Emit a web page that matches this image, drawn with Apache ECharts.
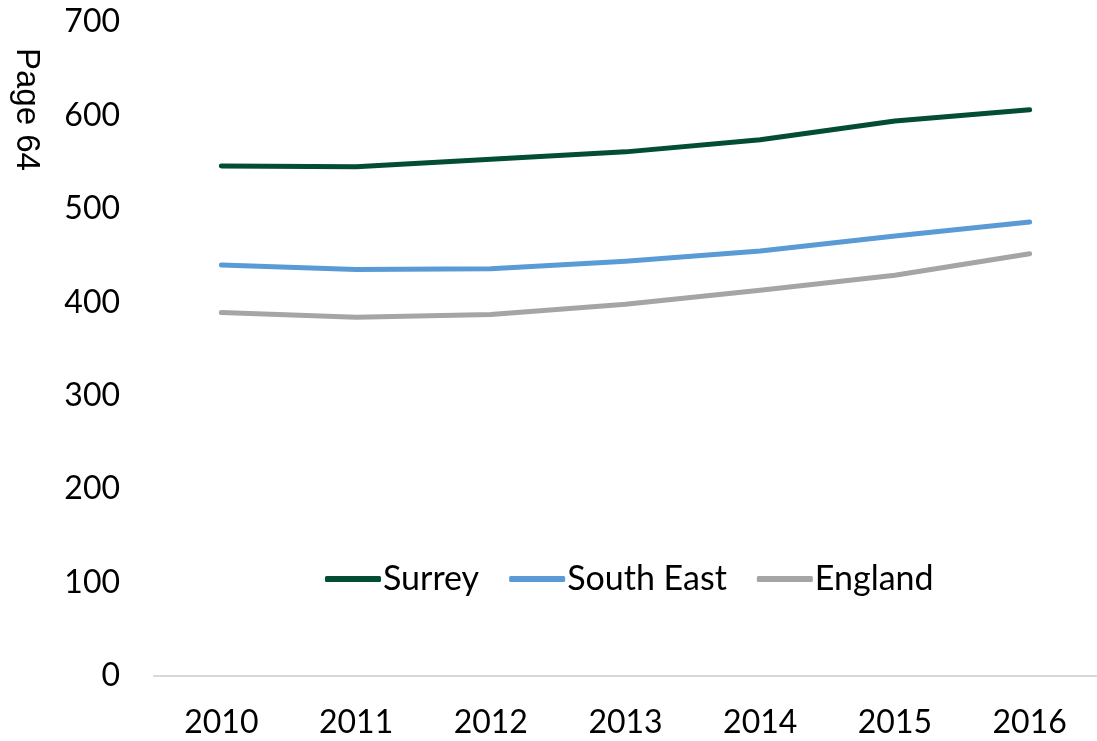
<!DOCTYPE html>
<html>
<head>
<meta charset="utf-8">
<script src="https://cdn.jsdelivr.net/npm/echarts@6/dist/echarts.min.js"></script>
<style>
  html, body { margin: 0; padding: 0; background: #fff; }
  #chart { width: 1097px; height: 741px; }
</style>
</head>
<body>
<div id="chart"></div>
<script>
// Years along the x axis
const years = ['2010', '2011', '2012', '2013', '2014', '2015', '2016'];
// Series values per year
const surrey = [546, 545, 553, 561, 574, 594, 606];
const southEast = [440, 435, 436, 444, 455, 471, 486];
const england = [389, 384, 387, 398, 413, 429, 452];
// Y axis ticks
const yTicks = [0, 100, 200, 300, 400, 500, 600, 700];

const font = 'Lato, "Open Sans", sans-serif';
const chart = echarts.init(document.getElementById('chart'), null, { renderer: 'canvas' });

function lineSeries(name, data, color) {
  return {
    name: name,
    type: 'line',
    data: data,
    symbol: 'none',
    smooth: false,
    lineStyle: { color: color, width: 5, cap: 'round', join: 'round' },
    itemStyle: { color: color }
  };
}

chart.setOption({
  animation: false,
  backgroundColor: '#ffffff',
  graphic: [{
    type: 'text',
    left: 10,
    top: 48,
    rotation: -Math.PI / 2,
    originX: 0,
    originY: 0,
    style: { text: 'Page 64', font: '33px "Liberation Sans", Arial, sans-serif', fill: '#000' }
  }],
  grid: { left: 154, right: -6, top: 22, bottom: 65 },
  legend: {
    left: 320,
    top: 557,
    icon: 'roundRect',
    itemWidth: 56,
    itemHeight: 6,
    itemGap: 30,
    textStyle: { fontFamily: font, fontSize: 34, color: '#000', padding: [0, 0, 0, -3] },
    data: ['Surrey', 'South East', 'England']
  },
  xAxis: {
    type: 'category',
    data: years,
    boundaryGap: true,
    axisLine: { lineStyle: { color: '#d9d9d9', width: 2 } },
    axisTick: { show: false },
    axisLabel: { fontFamily: font, fontSize: 32, color: '#000', margin: 31 }
  },
  yAxis: {
    type: 'value',
    min: yTicks[0],
    max: yTicks[yTicks.length - 1],
    interval: 100,
    axisLine: { show: false },
    axisTick: { show: false },
    splitLine: { show: false },
    axisLabel: { fontFamily: font, fontSize: 32, color: '#000', margin: 34 }
  },
  series: [
    lineSeries('Surrey', surrey, '#034D32'),
    lineSeries('South East', southEast, '#5B9BD5'),
    lineSeries('England', england, '#A5A5A5')
  ]
});
</script>
</body>
</html>
